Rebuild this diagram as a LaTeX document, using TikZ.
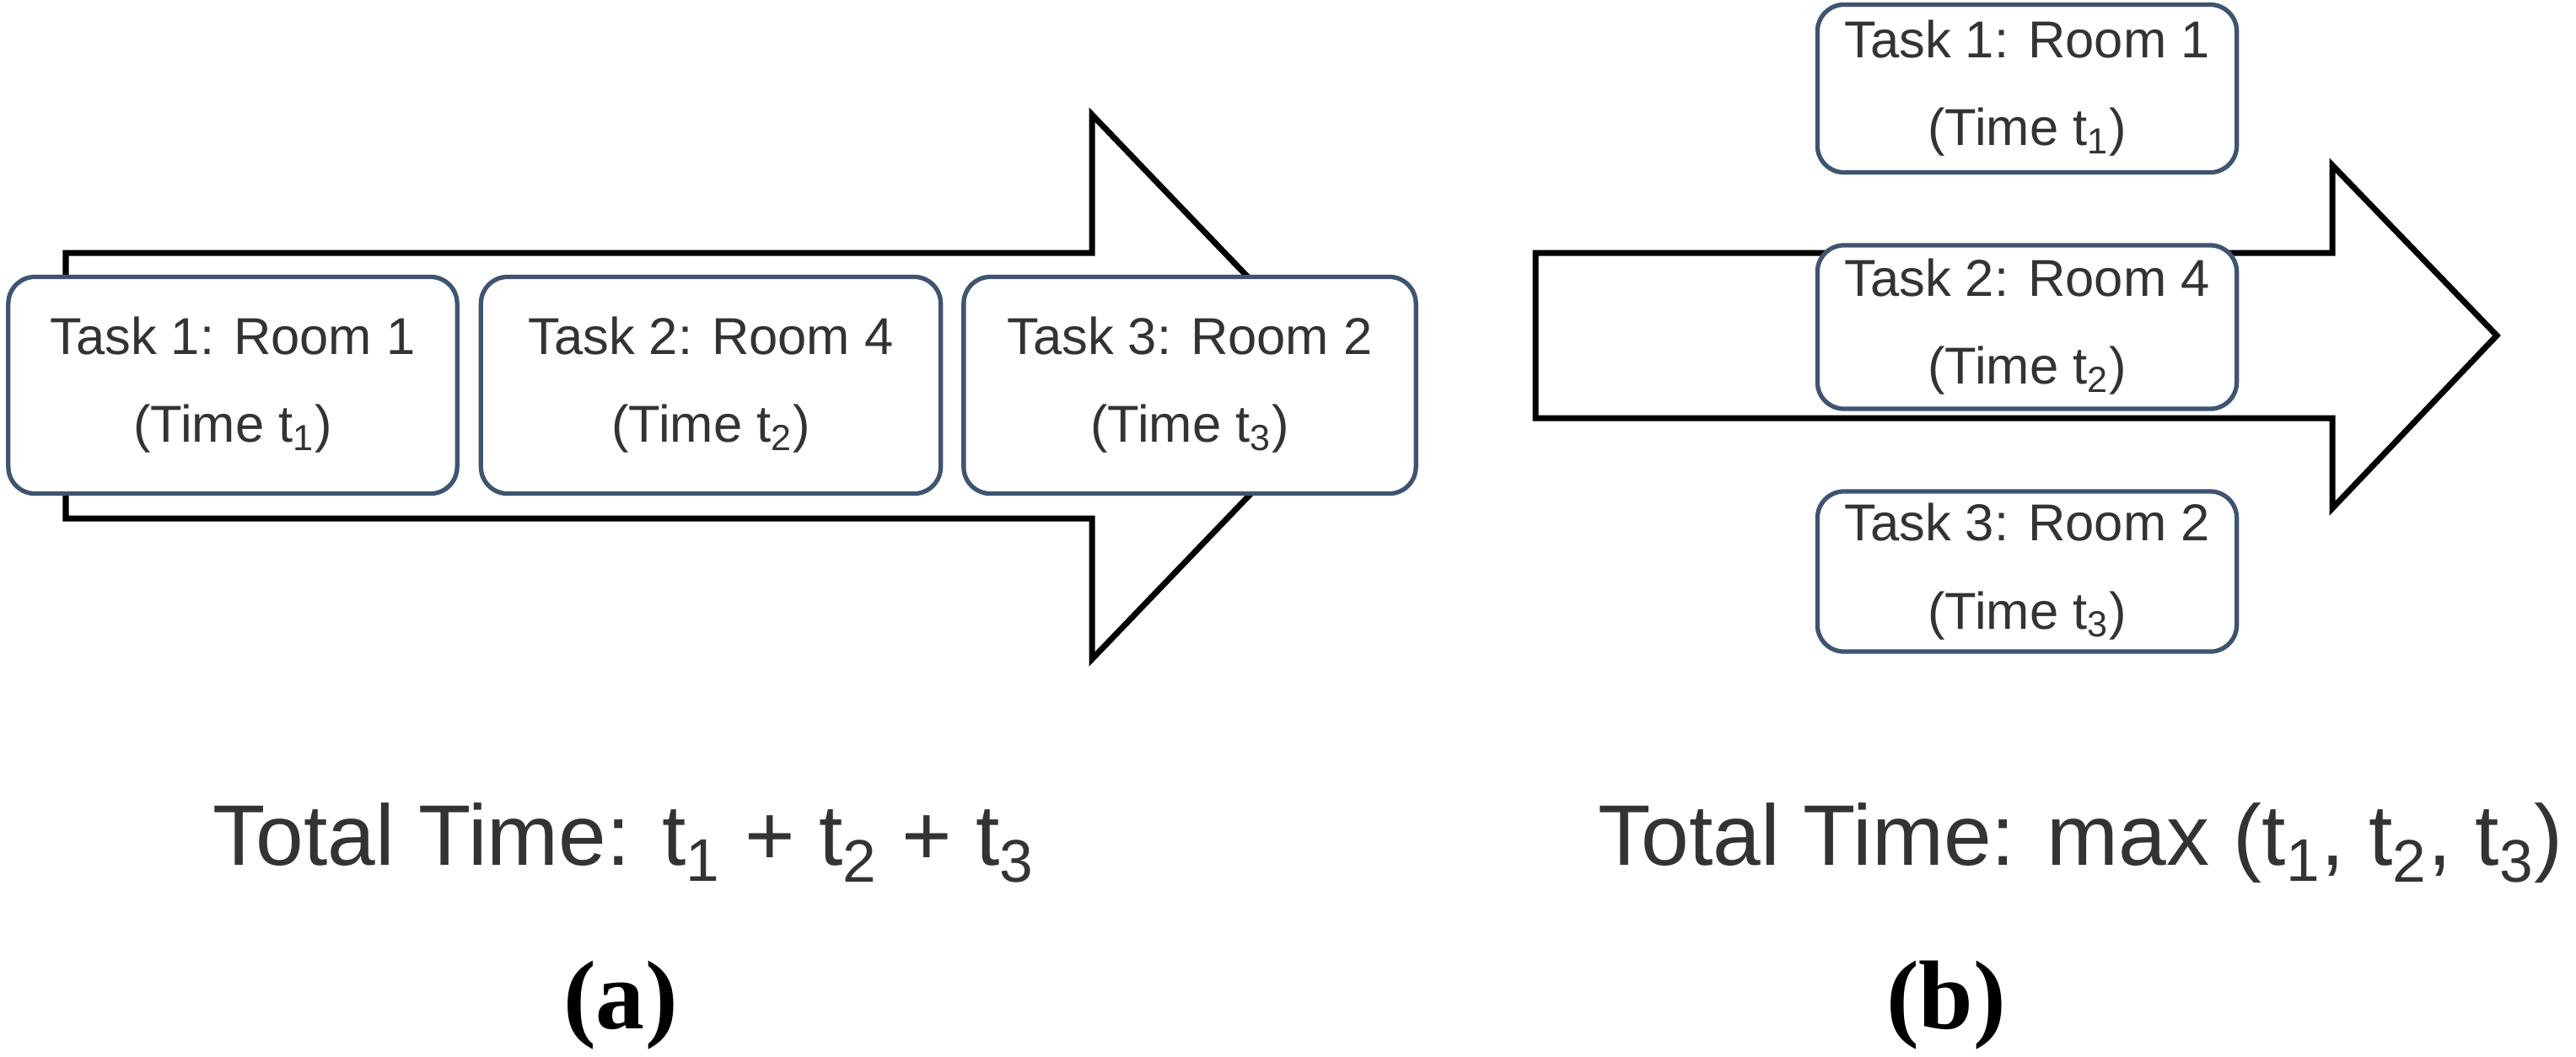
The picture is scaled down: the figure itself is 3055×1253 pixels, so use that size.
\documentclass[tikz,border=0pt]{standalone}
\usepackage{fontspec}
\setmainfont{Liberation Serif}
\newfontfamily\sansf{Liberation Sans}
\begin{document}
\begin{tikzpicture}[x=0.01cm,y=-0.01cm,
  arr/.style={draw=black,line width=2pt,fill=white,line join=miter},
  task/.style={draw=boxc,line width=1.5pt,rounded corners=9pt,fill=white,font=\sansf\fontsize{17.5}{29.6}\selectfont,text=txtc,align=center,inner sep=0pt},
  tot/.style={font=\sansf\fontsize{29}{32}\selectfont,text=txtc},
  lab/.style={font=\bfseries\fontsize{33}{36}\selectfont}]
\definecolor{boxc}{HTML}{3E5470}
\definecolor{txtc}{HTML}{333333}
\useasboundingbox (0,0) rectangle (3055,1253);
% left arrow
\draw[arr] (78,300) -- (1295,300) -- (1295,136) -- (1605,459) -- (1295,782) -- (1295,615) -- (78,615) -- cycle;
\node[task,minimum width=5.32cm,minimum height=2.57cm] (a1) at (276,457) {Task 1: Room 1\\(Time t\textsubscript{1})};
\node[task,minimum width=5.45cm,minimum height=2.57cm] (a2) at (843,457) {Task 2: Room 4\\(Time t\textsubscript{2})};
\node[task,minimum width=5.36cm,minimum height=2.57cm] (a3) at (1411,457) {Task 3: Room 2\\(Time t\textsubscript{3})};
% right arrow
\draw[arr] (1821,300) -- (2766,300) -- (2766,196) -- (2961,398) -- (2766,603) -- (2766,496) -- (1821,496) -- cycle;
\node[task,minimum width=4.97cm,minimum height=1.99cm] (b1) at (2404,105) {Task 1: Room 1\\(Time t\textsubscript{1})};
\node[task,minimum width=4.97cm,minimum height=1.94cm] (b2) at (2404,388) {Task 2: Room 4\\(Time t\textsubscript{2})};
\node[task,minimum width=4.97cm,minimum height=1.90cm] (b3) at (2404,678) {Task 3: Room 2\\(Time t\textsubscript{3})};
\node[tot] (ta) at (740,1000) {Total Time: t\textsubscript{1} + t\textsubscript{2} + t\textsubscript{3}};
\node[tot,anchor=east] (tb) at (3052,1000) {Total Time: max (t\textsubscript{1}, t\textsubscript{2}, t\textsubscript{3})};
\node[lab] (la) at (736,1193) {(a)};
\node[lab] (lb) at (2308,1193) {(b)};
\end{tikzpicture}
\end{document}
